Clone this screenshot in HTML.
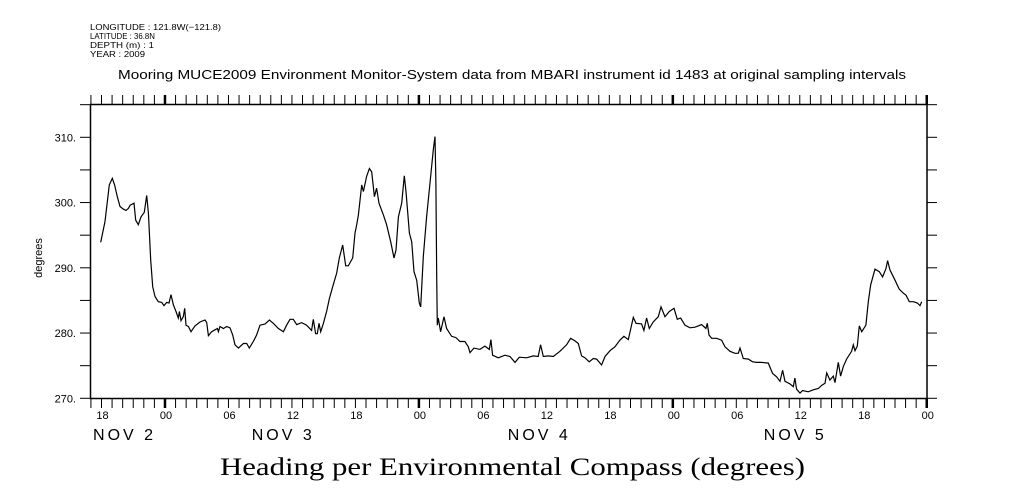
<!DOCTYPE html>
<html><head><meta charset="utf-8"><style>
html,body{margin:0;padding:0;background:#fff;}
svg{display:block;font-family:"Liberation Sans",sans-serif;}
</style></head><body>
<svg id="chart" width="1009" height="504" viewBox="0 0 1009 504" xmlns="http://www.w3.org/2000/svg">
<g font-size="8.5" fill="#000">
<text x="90" y="30" textLength="131" lengthAdjust="spacingAndGlyphs">LONGITUDE : 121.8W(−121.8)</text>
<text x="90" y="39" textLength="65" lengthAdjust="spacingAndGlyphs">LATITUDE : 36.8N</text>
<text x="90" y="48" textLength="64" lengthAdjust="spacingAndGlyphs">DEPTH (m) : 1</text>
<text x="90" y="57" textLength="55" lengthAdjust="spacingAndGlyphs">YEAR : 2009</text>
</g>
<text x="118" y="79" textLength="788" lengthAdjust="spacingAndGlyphs" font-size="12.5">Mooring MUCE2009 Environment Monitor-System data from MBARI instrument id 1483 at original sampling intervals</text>
<text x="220" y="475" textLength="585" lengthAdjust="spacingAndGlyphs" font-family="'Liberation Serif',serif" font-size="25">Heading per Environmental Compass (degrees)</text>
<text transform="translate(42,258) rotate(-90)" text-anchor="middle" font-size="11">degrees</text>
<rect x="90.5" y="104.5" width="836.5" height="294" fill="none" stroke="#000" stroke-width="1.5"/>
<g id="axes"></g>
<path id="series" fill="none" stroke="#000" stroke-width="1.2"/>
</svg>
<script>
const hours = [-0.08,0.33,0.74,1.02,1.24,1.49,1.75,2.06,2.32,2.54,2.7,3.07,3.23,3.48,3.73,4.05,4.27,4.43,4.65,4.84,5.06,5.37,5.69,5.91,6.16,6.38,6.57,6.8,7.04,7.26,7.36,7.51,7.73,7.86,7.99,8.21,8.46,8.84,9.31,9.78,9.94,10.1,10.41,10.73,10.95,11.05,11.2,11.52,11.83,12.15,12.4,12.62,12.94,13.41,13.72,13.97,14.35,14.66,14.98,15.46,15.87,16.24,16.72,17.19,17.5,17.82,18.13,18.45,18.92,19.39,19.86,20.02,20.24,20.4,20.56,20.72,20.97,21.28,21.54,21.85,22.23,22.48,22.8,23.08,23.33,23.74,23.96,24.12,24.28,24.59,24.75,25.06,25.32,25.54,25.79,26.0,26.23,26.64,26.95,27.33,27.65,27.84,28.06,28.37,28.62,28.78,29.1,29.32,29.54,29.79,30.04,30.17,30.42,30.73,31.05,31.36,31.52,31.61,31.68,31.74,31.83,32.05,32.37,32.62,33.09,33.5,33.88,34.35,34.67,34.83,35.2,35.77,36.24,36.65,36.81,36.97,37.5,38.13,38.61,39.08,39.49,40.18,40.81,41.28,41.5,41.76,42.23,42.7,43.33,43.96,44.34,44.75,45.07,45.38,45.7,46.1,46.48,46.8,47.27,47.59,48.06,48.53,49.0,49.38,49.79,50.26,50.52,51.05,51.27,51.52,51.78,52.15,52.63,52.88,53.26,53.67,54.11,54.42,54.74,55.15,55.62,56.09,56.41,56.72,57.13,57.26,57.42,57.67,58.14,58.61,58.93,59.4,59.87,60.19,60.35,60.66,61.13,61.54,61.92,62.39,63.02,63.43,63.81,64.13,64.38,64.6,65.07,65.39,65.54,65.7,66.02,66.27,66.8,67.28,67.75,68.07,68.38,68.54,68.85,69.17,69.33,69.64,69.86,70.12,70.43,70.9,71.06,71.22,71.44,71.63,71.85,72.25,72.48,72.7,73.11,73.52,73.83,74.15,74.3,74.52,75.0,75.41,75.79,76.04,76.35,76.73,77.11,77.36,77.52];
const heading = [293.9,297.1,302.7,303.7,302.7,300.9,299.4,299.0,298.8,299.1,299.6,299.9,297.3,296.6,297.8,298.5,301.1,298.4,291.2,287.1,285.6,284.8,284.7,284.2,284.7,284.6,285.9,284.3,283.3,282.3,283.3,281.9,282.5,283.8,281.2,281.0,280.2,281.1,281.7,282.0,281.6,279.6,280.2,280.5,280.7,280.2,281.0,280.7,281.0,280.8,279.7,278.2,277.7,278.4,278.4,277.7,278.7,279.7,281.2,281.4,282.0,281.5,280.7,280.2,281.2,282.1,282.1,281.3,281.6,281.2,280.4,282.1,279.9,279.9,281.5,280.2,281.5,283.3,285.3,287.1,289.2,291.5,293.5,290.3,290.3,291.5,295.3,296.6,298.1,302.7,301.7,304.0,305.2,304.7,300.9,302.2,299.9,298.1,296.6,294.0,291.5,292.7,297.8,299.9,304.1,301.7,295.3,294.0,289.4,288.1,284.6,284.0,291.7,297.8,303.0,308.1,310.1,303.0,288.6,281.2,282.3,280.2,282.5,280.7,279.5,279.3,278.7,278.7,277.9,277.0,277.7,277.5,278.0,277.5,279.0,276.6,276.2,276.6,276.4,275.5,276.3,276.2,276.5,276.4,278.2,276.4,276.5,276.4,277.2,278.2,279.2,278.8,278.4,276.5,276.2,275.6,276.1,276.0,275.1,276.4,277.3,277.9,278.9,279.5,279.0,282.4,281.5,281.4,280.4,282.3,280.7,281.7,282.5,284.0,282.5,283.3,283.8,282.1,282.3,281.2,280.8,280.9,281.1,281.3,280.7,281.5,279.7,279.2,279.2,278.9,277.9,277.2,276.9,276.9,277.7,276.1,276.0,275.6,275.5,275.5,275.4,273.8,273.3,272.6,274.3,272.6,272.2,271.8,273.1,271.4,270.8,271.2,271.0,271.3,271.5,272.0,272.3,273.9,272.8,273.4,272.4,275.5,273.4,274.9,276.0,277.2,278.2,277.3,278.0,281.1,280.2,281.2,284.8,287.4,289.8,289.4,288.6,289.9,291.1,289.7,288.1,286.7,286.1,285.8,284.8,284.8,284.6,284.2,284.8];
const yTickLabels = ["270.","280.","290.","300.","310."];
const yTickValues = [270,280,290,300,310];
const hourLabels = ["18","00","06","12","18","00","06","12","18","00","06","12","18","00"];
const dayLabels = ["NOV  2","NOV  3","NOV  4","NOV  5"];
const dayLabelHours = [-0.8,14.2,38.4,62.6];

const X0=101.5, PXH=10.58, YB=398.3, PXU=6.525;
function xs(h){return X0+h*PXH;}
function ys(v){return YB-(v-270)*PXU;}
const NS="http://www.w3.org/2000/svg";
const axes=document.getElementById('axes');
function el(tag,attrs,parent){const e=document.createElementNS(NS,tag);for(const k in attrs)e.setAttribute(k,attrs[k]);(parent||axes).appendChild(e);return e;}

for(let h=-1;h<=78;h++){
  const x=xs(h); const major=((h+18)%24===0);
  const t1=el('line',{x1:x,y1:104.5,x2:x,y2:95,stroke:'#000','stroke-width':major?2.5:1});
  
  
  const t2=el('line',{x1:x,y1:398.5,x2:x,y2:408,stroke:'#000','stroke-width':major?2.5:1});
  
  
}
for(let v=270;v<=315;v+=5){
  const y=ys(v);
  const l=el('line',{x1:80,y1:y,x2:90.5,y2:y,stroke:'#000','stroke-width':1});
  
  
  const r=el('line',{x1:927,y1:y,x2:937,y2:y,stroke:'#000','stroke-width':1});
  
  
}
yTickValues.forEach((v,i)=>{
  const t=el('text',{x:76,y:ys(v)+4,'text-anchor':'end','font-size':'11'});
  t.textContent=yTickLabels[i];
  
  
});
hourLabels.forEach((s,i)=>{
  const t=el('text',{x:xs(i*6)+1,y:419,'text-anchor':'middle','font-size':'11'});
  t.textContent=s;
  
  
});
dayLabels.forEach((s,i)=>{
  const t=el('text',{x:xs(dayLabelHours[i]),y:440,'font-size':'16',textLength:'60',lengthAdjust:'spacing','xml:space':'preserve'});
  t.textContent=s;
  
  
});
let d='';
hours.forEach((h,i)=>{d+=(i?'L':'M')+xs(h).toFixed(1)+','+ys(heading[i]).toFixed(1);});
document.getElementById('series').setAttribute('d',d);
</script>
</body></html>
